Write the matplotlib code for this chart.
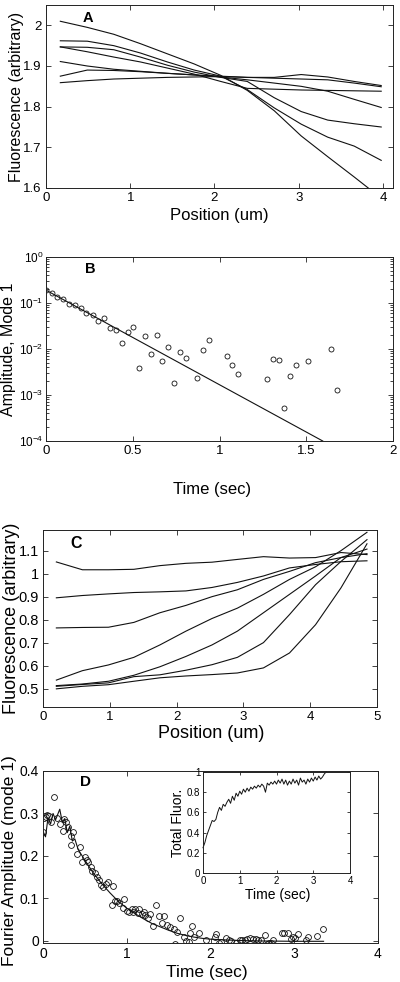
import matplotlib
matplotlib.use("Agg")
import matplotlib.pyplot as plt
from matplotlib.ticker import FixedLocator, FormatStrFormatter, LogLocator, NullFormatter

plt.rcParams['font.family'] = ['Liberation Sans', 'DejaVu Sans']
plt.rcParams['mathtext.fontset'] = 'custom'
plt.rcParams['mathtext.rm'] = 'Liberation Sans'
plt.rcParams['mathtext.it'] = 'Liberation Sans'

# ---------------- Panel A data ----------------
a_pos = [0.17, 0.49, 0.805, 1.12, 1.44, 1.76, 2.075, 2.39, 2.71, 3.03, 3.345, 3.66, 3.98]
a_l1 = [2.010, 1.995, 1.978, 1.955, 1.930, 1.905, 1.877, 1.840, 1.790, 1.728, 1.677, 1.627, 1.575]
a_l2 = [1.962, 1.961, 1.950, 1.932, 1.910, 1.890, 1.875, 1.842, 1.797, 1.757, 1.725, 1.703, 1.668]
a_l3 = [1.947, 1.946, 1.940, 1.922, 1.902, 1.885, 1.872, 1.862, 1.822, 1.788, 1.767, 1.758, 1.750]
a_l4 = [1.947, 1.935, 1.922, 1.910, 1.895, 1.880, 1.862, 1.845, 1.843, 1.841, 1.840, 1.839, 1.838]
a_l5 = [1.911, 1.900, 1.892, 1.887, 1.882, 1.878, 1.873, 1.866, 1.858, 1.850, 1.838, 1.818, 1.798]
a_l6 = [1.875, 1.890, 1.889, 1.886, 1.882, 1.878, 1.875, 1.872, 1.872, 1.879, 1.873, 1.862, 1.852]
a_l7 = [1.859, 1.864, 1.868, 1.870, 1.872, 1.873, 1.874, 1.872, 1.870, 1.868, 1.866, 1.858, 1.849]
a_lines = [a_l1, a_l2, a_l3, a_l4, a_l5, a_l6, a_l7]

# ---------------- Panel B data ----------------
b_time = [0.0, 0.033, 0.065, 0.1, 0.133, 0.167, 0.202, 0.23, 0.269, 0.3, 0.336, 0.369, 0.403,
          0.436, 0.47, 0.503, 0.538, 0.571, 0.603, 0.638, 0.67, 0.705, 0.738, 0.772, 0.805,
          0.872, 0.905, 0.94, 1.041, 1.074, 1.107, 1.272, 1.307, 1.341, 1.374, 1.406, 1.441,
          1.508, 1.643, 1.677]
b_amp = [0.189, 0.165, 0.135, 0.122, 0.097, 0.091, 0.078, 0.061, 0.056, 0.041, 0.047, 0.028,
         0.026, 0.0135, 0.0234, 0.0296, 0.0039, 0.0195, 0.0079, 0.0206, 0.0055, 0.011, 0.0018,
         0.0086, 0.0063, 0.0023, 0.0094, 0.016, 0.007, 0.0045, 0.0029, 0.0022, 0.006, 0.0057,
         0.00052, 0.0026, 0.0046, 0.0055, 0.010, 0.00126]
b_fit_t = [0.0, 1.595]
b_fit_amp = [0.19, 1e-4]

# ---------------- Panel C data ----------------
c_pos = [0.2, 0.59, 0.98, 1.36, 1.75, 2.14, 2.53, 2.91, 3.3, 3.69, 4.08, 4.46, 4.85]
c_l1 = [1.051, 1.017, 1.017, 1.019, 1.035, 1.045, 1.050, 1.062, 1.074, 1.068, 1.070, 1.092, 1.083]
c_l2 = [0.895, 0.905, 0.912, 0.918, 0.921, 0.925, 0.940, 0.962, 0.990, 1.025, 1.040, 1.052, 1.056]
c_l3 = [0.764, 0.766, 0.767, 0.788, 0.830, 0.862, 0.900, 0.930, 0.975, 1.010, 1.048, 1.070, 1.087]
c_l4 = [0.537, 0.578, 0.603, 0.636, 0.690, 0.750, 0.805, 0.850, 0.910, 0.975, 1.030, 1.100, 1.180]
c_l5 = [0.513, 0.520, 0.532, 0.558, 0.595, 0.640, 0.690, 0.750, 0.830, 0.910, 0.990, 1.070, 1.107]
c_l6 = [0.510, 0.518, 0.525, 0.552, 0.560, 0.580, 0.604, 0.636, 0.700, 0.822, 0.952, 1.053, 1.148]
c_l7 = [0.499, 0.510, 0.517, 0.532, 0.547, 0.555, 0.561, 0.568, 0.590, 0.655, 0.778, 0.938, 1.130]
c_lines = [c_l1, c_l2, c_l3, c_l4, c_l5, c_l6, c_l7]

# ---------------- Panel D data ----------------
d_time = [0.00, 0.01, 0.03, 0.05, 0.072, 0.10, 0.135, 0.17, 0.20, 0.24, 0.25, 0.27, 0.30, 0.33,
          0.34, 0.36, 0.40, 0.44, 0.47, 0.50, 0.52, 0.54, 0.57, 0.58, 0.62, 0.64, 0.67, 0.69,
          0.72, 0.75, 0.78, 0.82, 0.84, 0.86, 0.88, 0.91, 0.95, 0.97, 1.00, 1.03, 1.06, 1.08,
          1.10, 1.13, 1.15, 1.18, 1.20, 1.22, 1.25, 1.28, 1.31, 1.35, 1.38, 1.42, 1.44, 1.48,
          1.52, 1.56, 1.58, 1.60, 1.64, 1.68, 1.71, 1.74, 1.76, 1.78, 1.80, 1.86, 1.95, 2.05,
          2.07, 2.10, 2.12, 2.18, 2.22, 2.25, 2.31, 2.35, 2.38, 2.41, 2.44, 2.47, 2.51, 2.54,
          2.57, 2.60, 2.65, 2.67, 2.70, 2.72, 2.75, 2.85, 2.88, 2.92, 2.96, 2.99, 3.01, 3.04,
          3.14, 3.17, 3.27, 3.34]
d_amp = [0.256, 0.29, 0.291, 0.297, 0.294, 0.281, 0.338, 0.29, 0.275, 0.259, 0.286, 0.28,
         0.267, 0.246, 0.226, 0.257, 0.205, 0.222, 0.185, 0.197, 0.19, 0.186, 0.174, 0.164,
         0.16, 0.15, 0.143, 0.131, 0.126, 0.135, 0.139, 0.085, 0.13, 0.095, 0.094, 0.09, 0.078,
         0.099, 0.070, 0.068, 0.076, 0.068, 0.074, 0.066, 0.075, 0.064, 0.069, 0.061, 0.055,
         0.063, 0.035, 0.084, 0.059, 0.043, 0.059, 0.038, 0.032, 0.028, -0.008, 0.02, 0.055,
         0.008, 0.0, -0.003, 0.018, 0.034, 0.01, 0.019, 0.001, 0.01, 0.016, -0.004, -0.002,
         0.006, 0.003, 0.0, -0.006, 0.003, 0.002, 0.003, 0.004, 0.006, 0.004, 0.005, 0.003,
         0.001, 0.013, -0.007, -0.004, -0.006, 0.002, 0.019, 0.019, 0.018, 0.004, 0.008, 0.006,
         0.016, 0.002, 0.009, 0.012, 0.028]
d_fit_t = [0.0, 0.03, 0.06, 0.09, 0.12, 0.15, 0.2, 0.23, 0.26, 0.29, 0.32, 0.35, 0.38, 0.42,
           0.5, 0.6, 0.7, 0.8, 0.9, 1.0, 1.1, 1.2, 1.3, 1.4, 1.5, 1.6, 1.7, 1.8, 1.9, 2.0, 2.2,
           2.5, 3.0, 3.35]
d_fit_amp = [0.258, 0.245, 0.29, 0.275, 0.30, 0.285, 0.31, 0.28, 0.288, 0.255, 0.27, 0.235,
             0.24, 0.215, 0.19, 0.16, 0.135, 0.113, 0.093, 0.077, 0.064, 0.052, 0.041, 0.033,
             0.025, 0.018, 0.013, 0.009, 0.006, 0.004, 0.002, 0.0, -0.001, -0.001]

# Inset: total fluorescence
ins_time = [0.00, 0.05, 0.10, 0.15, 0.20, 0.25, 0.30, 0.35, 0.40, 0.45, 0.50, 0.55, 0.60, 0.65,
            0.70, 0.75, 0.80, 0.85, 0.90, 0.95, 1.00, 1.05, 1.10, 1.15, 1.20, 1.25, 1.30, 1.35,
            1.40, 1.45, 1.50, 1.55, 1.60, 1.65, 1.70, 1.75, 1.80, 1.85, 1.90, 1.95, 2.00, 2.05,
            2.10, 2.15, 2.20, 2.25, 2.30, 2.35, 2.40, 2.45, 2.50, 2.55, 2.60, 2.65, 2.70, 2.75,
            2.80, 2.85, 2.90, 2.95, 3.00, 3.05, 3.10, 3.15, 3.20, 3.25, 3.30, 3.35]
ins_fluor = [0.25, 0.30, 0.37, 0.42, 0.47, 0.52, 0.51, 0.53, 0.60, 0.65, 0.62, 0.68, 0.66, 0.70,
             0.73, 0.69, 0.76, 0.72, 0.79, 0.76, 0.81, 0.78, 0.83, 0.80, 0.84, 0.81, 0.85, 0.83,
             0.86, 0.84, 0.87, 0.85, 0.88, 0.86, 0.80, 0.89, 0.87, 0.90, 0.88, 0.91, 0.88, 0.92,
             0.89, 0.93, 0.88, 0.92, 0.87, 0.91, 0.88, 0.93, 0.89, 0.92, 0.87, 0.94, 0.90, 0.92,
             0.88, 0.93, 0.90, 0.94, 0.91, 0.95, 0.92, 0.96, 0.93, 0.95, 0.98, 1.00]

LC = '#111111'
LW = 0.8

fig = plt.figure(figsize=(4.0, 9.82), dpi=100)
W, H = 400.0, 982.0


def rect(l, t, r, b):
    return [l / W, 1 - b / H, (r - l) / W, (b - t) / H]


def style(ax, tick_fs):
    for s in ax.spines.values():
        s.set_linewidth(0.7)
        s.set_color('#222222')
    ax.tick_params(which='both', direction='in', top=True, right=True,
                   labelsize=tick_fs, width=0.6, color='#222222', pad=3)
    ax.tick_params(which='major', length=3.5)
    ax.tick_params(which='minor', length=2)


# ---------------- Panel A ----------------
axA = fig.add_axes(rect(46, 5, 393, 188))
for ys in a_lines:
    axA.plot(a_pos, ys, color=LC, lw=LW)
axA.set_xlim(0, 4.12)
axA.set_ylim(1.6, 2.05)
axA.xaxis.set_major_locator(FixedLocator([0, 1, 2, 3, 4]))
axA.yaxis.set_major_locator(FixedLocator([1.6, 1.7, 1.8, 1.9, 2.0]))
axA.xaxis.set_major_formatter(FormatStrFormatter('%g'))
axA.yaxis.set_major_formatter(FormatStrFormatter('%g'))
style(axA, 9.5)
axA.set_xlabel('Position (um)', fontsize=12)
axA.set_ylabel('Fluorescence (arbitrary)', fontsize=11.5)
axA.xaxis.label.set_va('center')
axA.xaxis.set_label_coords(0.5, -0.148)
axA.yaxis.label.set_va('center')
axA.yaxis.set_label_coords(-0.086, 0.5)
axA.text(0.12, 0.93, 'A', transform=axA.transAxes, fontsize=10.5, fontweight='bold',
         ha='center', va='center')

# ---------------- Panel B ----------------
axB = fig.add_axes(rect(46, 257, 393, 441))
axB.set_yscale('log')
axB.plot(b_time, b_amp, linestyle='none', marker='o', markersize=3.6, markerfacecolor='none',
         markeredgecolor=LC, markeredgewidth=0.6)
axB.plot(b_fit_t, b_fit_amp, color=LC, lw=LW)
axB.set_xlim(0, 2)
axB.set_ylim(1e-4, 1)
axB.xaxis.set_major_locator(FixedLocator([0, 0.5, 1, 1.5, 2]))
axB.xaxis.set_major_formatter(FormatStrFormatter('%g'))
axB.yaxis.set_major_locator(FixedLocator([1e-4, 1e-3, 1e-2, 1e-1, 1]))
axB.yaxis.set_minor_locator(LogLocator(base=10, subs=range(2, 10)))
axB.yaxis.set_minor_formatter(NullFormatter())
axB.set_yticklabels([r'$10^{-4}$', r'$10^{-3}$', r'$10^{-2}$', r'$10^{-1}$', r'$10^{0}$'])
style(axB, 9.5)
axB.tick_params(axis='y', labelsize=8.5, pad=2)
axB.set_xlabel('Time (sec)', fontsize=12)
axB.set_ylabel('Amplitude, Mode 1', fontsize=11.5)
axB.xaxis.label.set_va('center')
axB.xaxis.set_label_coords(0.478, -0.261)
axB.yaxis.label.set_va('center')
axB.yaxis.set_label_coords(-0.107, 0.5)
axB.text(0.127, 0.935, 'B', transform=axB.transAxes, fontsize=10.5, fontweight='bold',
         ha='center', va='center')

# ---------------- Panel C ----------------
axC = fig.add_axes(rect(43, 530, 377, 707))
for ys in c_lines:
    axC.plot(c_pos, ys, color=LC, lw=LW)
axC.set_xlim(0, 5)
axC.set_ylim(0.42, 1.19)
axC.xaxis.set_major_locator(FixedLocator([0, 1, 2, 3, 4, 5]))
axC.yaxis.set_major_locator(FixedLocator([0.5, 0.6, 0.7, 0.8, 0.9, 1.0, 1.1]))
axC.xaxis.set_major_formatter(FormatStrFormatter('%g'))
axC.yaxis.set_major_formatter(FormatStrFormatter('%g'))
style(axC, 10.5)
axC.tick_params(axis='x', labelsize=9.5)
axC.set_xlabel('Position (um)', fontsize=13)
axC.set_ylabel('Fluorescence (arbitrary)', fontsize=13)
axC.xaxis.label.set_va('center')
axC.xaxis.set_label_coords(0.505, -0.147)
axC.yaxis.label.set_va('center')
axC.yaxis.set_label_coords(-0.093, 0.5)
axC.text(0.1, 0.925, 'C', transform=axC.transAxes, fontsize=11.5, fontweight='bold',
         ha='center', va='center')

# ---------------- Panel D ----------------
axD = fig.add_axes(rect(43, 771, 378, 943))
axD.plot(d_time, d_amp, linestyle='none', marker='o', markersize=4.2, markerfacecolor='none',
         markeredgecolor=LC, markeredgewidth=0.6)
axD.plot(d_fit_t, d_fit_amp, color=LC, lw=LW)
axD.set_xlim(0, 4)
axD.set_ylim(-0.005, 0.4)
axD.xaxis.set_major_locator(FixedLocator([0, 1, 2, 3, 4]))
axD.yaxis.set_major_locator(FixedLocator([0, 0.1, 0.2, 0.3, 0.4]))
axD.xaxis.set_major_formatter(FormatStrFormatter('%g'))
axD.yaxis.set_major_formatter(FormatStrFormatter('%g'))
style(axD, 10)
axD.set_xlabel('Time (sec)', fontsize=12.5)
axD.set_ylabel('Fourier Amplitude (mode 1)', fontsize=12.5)
axD.xaxis.label.set_va('center')
axD.xaxis.set_label_coords(0.49, -0.169)
axD.yaxis.label.set_va('center')
axD.yaxis.set_label_coords(-0.099, 0.48)
axD.text(0.127, 0.935, 'D', transform=axD.transAxes, fontsize=11, fontweight='bold',
         ha='center', va='center')

# Inset
axI = fig.add_axes(rect(203, 772, 350, 873))
axI.plot(ins_time, ins_fluor, color=LC, lw=0.7, clip_on=False)
axI.set_xlim(0, 4)
axI.set_ylim(0, 1)
axI.xaxis.set_major_locator(FixedLocator([0, 1, 2, 3, 4]))
axI.yaxis.set_major_locator(FixedLocator([0, 0.2, 0.4, 0.6, 0.8, 1.0]))
axI.xaxis.set_major_formatter(FormatStrFormatter('%g'))
axI.yaxis.set_major_formatter(FormatStrFormatter('%g'))
style(axI, 7)
axI.tick_params(which='major', length=2.5, pad=2)
axI.set_xlabel('Time (sec)', fontsize=10)
axI.set_ylabel('Total Fluor.', fontsize=10)
axI.xaxis.label.set_va('center')
axI.xaxis.set_label_coords(0.51, -0.22)
axI.yaxis.label.set_va('center')
axI.yaxis.set_label_coords(-0.17, 0.5)

fig.savefig('out.png', dpi=100)
